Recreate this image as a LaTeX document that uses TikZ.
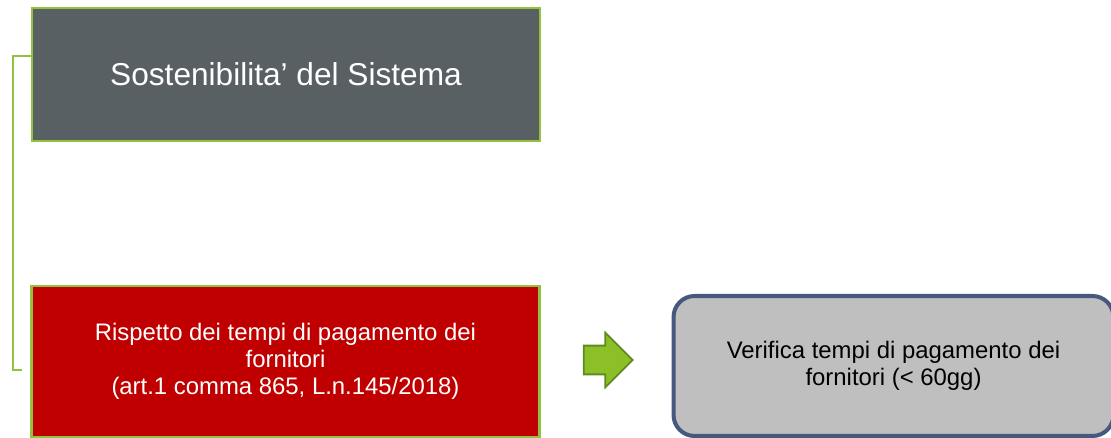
\documentclass[tikz,border=0pt]{standalone}
\usepackage{fontspec}
\setmainfont{Liberation Sans}
\usetikzlibrary{shapes.arrows}
\definecolor{boxgray}{HTML}{596064}
\definecolor{boxred}{HTML}{C00000}
\definecolor{leafgreen}{HTML}{92C23E}
\definecolor{arrowgreen}{HTML}{8DBF26}
\definecolor{arrowdark}{HTML}{5E8A1E}
\definecolor{checkgray}{HTML}{BFBFBF}
\definecolor{checkblue}{HTML}{47587F}
\begin{document}
\begin{tikzpicture}[
    x=0.02cm, y=-0.02cm,
    every node/.append style={font=\fontsize{13.6pt}{15.4pt}\selectfont},
    topic/.style={rectangle, draw=leafgreen, line width=1.5pt, text=white, align=center, minimum width=10.16cm},
    bracket/.style={draw=leafgreen, line width=1.5pt},
    check/.style={rectangle, rounded corners=0.42cm, draw=checkblue, line width=2.3pt, fill=checkgray, align=center, minimum width=8.8cm, minimum height=2.8cm}
]
    \useasboundingbox (0,0) rectangle (1111,438);

    % Obiettivo
    \node[topic, fill=boxgray, minimum height=2.66cm, font=\fontsize{18pt}{21pt}\selectfont] (sost) at (286,74.5) {Sostenibilita’ del Sistema};

    % Indicatore
    \node[topic, fill=boxred, minimum height=3.02cm] (tempi) at (285.5,361.5) {Rispetto dei tempi di pagamento dei\\fornitori\\(art.1 comma 865, L.n.145/2018)};

    % Parentesi laterale
    \coordinate (brtop) at (32,56);
    \coordinate (brbot) at (22,370);
    \draw[bracket] (brtop) -- ++(-19,0) |- (brbot);

    % Freccia e verifica
    \node[single arrow, draw=arrowdark, line width=1pt, fill=arrowgreen, inner xsep=0pt, inner ysep=0.27cm, minimum height=0.98cm, single arrow head extend=0.26cm, single arrow tip angle=90] (freccia) at (601,360) {};
    \node[check] (verifica) at (893.5,366) {Verifica tempi di pagamento dei\\fornitori (< 60gg)};

\end{tikzpicture}
\end{document}
